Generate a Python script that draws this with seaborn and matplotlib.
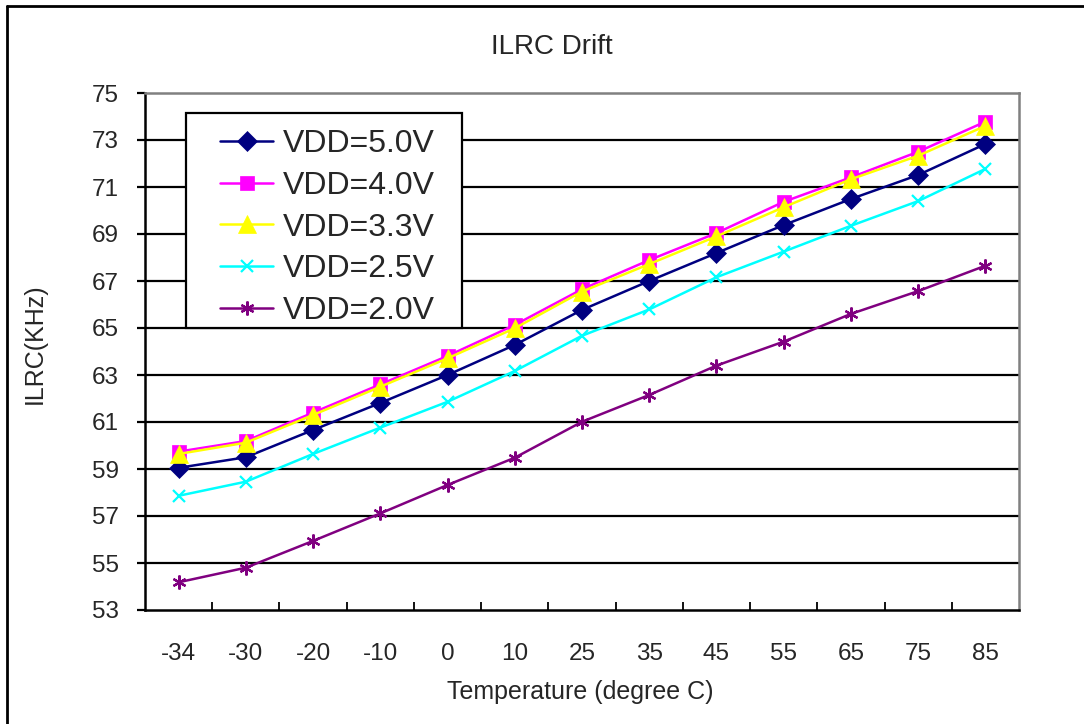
import matplotlib
matplotlib.use("Agg")
import matplotlib.pyplot as plt
from matplotlib.lines import Line2D
from matplotlib.patches import Rectangle
import numpy as np
import pandas as pd
import seaborn as sns

# Temperature points (degree C) and measured ILRC frequency (KHz) per supply voltage
temperatures = ["-34", "-30", "-20", "-10", "0", "10", "25", "35", "45", "55", "65", "75", "85"]
vdd_50 = [59.05, 59.50, 60.66, 61.81, 63.00, 64.28, 65.77, 67.00, 68.19, 69.38, 70.49, 71.51, 72.83]
vdd_40 = [59.74, 60.19, 61.40, 62.60, 63.81, 65.13, 66.65, 67.89, 69.04, 70.37, 71.41, 72.50, 73.78]
vdd_33 = [59.64, 60.12, 61.30, 62.50, 63.71, 64.99, 66.55, 67.72, 68.90, 70.14, 71.33, 72.33, 73.60]
vdd_25 = [57.86, 58.46, 59.64, 60.76, 61.86, 63.17, 64.67, 65.79, 67.16, 68.25, 69.35, 70.40, 71.77]
vdd_20 = [54.18, 54.80, 55.94, 57.11, 58.32, 59.48, 61.01, 62.15, 63.40, 64.42, 65.60, 66.57, 67.65]

series_names = ["VDD=5.0V", "VDD=4.0V", "VDD=3.3V", "VDD=2.5V", "VDD=2.0V"]
series_values = [vdd_50, vdd_40, vdd_33, vdd_25, vdd_20]
y_ticks = list(range(53, 76, 2))

colors = ["#000080", "#FF00FF", "#FFFF00", "#00FFFF", "#800080"]
markers = ["D", "s", "^", "x", (6, 2, 0)]
marker_sizes = [10.5, 10, 12.5, 9, 10]

sns.set_theme(style="white")
plt.rcParams["font.family"] = ["Liberation Sans", "DejaVu Sans"]

W, H = 1084, 724
fig = plt.figure(figsize=(W / 100, H / 100), dpi=100)
ax_left, ax_right, ax_top, ax_bottom = 145, 1019, 93, 610
ax = fig.add_axes([ax_left / W, 1 - ax_bottom / H, (ax_right - ax_left) / W, (ax_bottom - ax_top) / H])


def px_to_axes(px, py):
    return ((px - ax_left) / (ax_right - ax_left), (ax_bottom - py) / (ax_bottom - ax_top))


# horizontal gridlines behind the data
for yv in y_ticks[1:-1]:
    ax.axhline(yv, color="black", lw=1.6, zorder=1)

handles = []
for name, vals, c, m, ms in zip(series_names, series_values, colors, markers, marker_sizes):
    mew = 1.6 if m in ("x", (6, 2, 0)) else 0.5
    df = pd.DataFrame({"Temperature": temperatures, "ILRC": vals})
    sns.lineplot(data=df, x="Temperature", y="ILRC", sort=False, ax=ax, color=c,
                 lw=1.8, marker=m, markersize=ms, markeredgecolor=c,
                 markeredgewidth=mew, markerfacecolor=c, zorder=3)
    handles.append(Line2D([], [], color=c, lw=1.8, marker=m, markersize=ms,
                          markeredgecolor=c, markerfacecolor=c, markeredgewidth=mew))

ax.set_xlim(-0.5, len(temperatures) - 0.5)
ax.set_ylim(53, 75)
ax.set_yticks(y_ticks)
ax.set_xticks(range(len(temperatures)))
ax.set_xticklabels(temperatures)
ax.set_xticks(np.arange(0.5, len(temperatures) - 1, 1.0), minor=True)

ax.tick_params(axis="y", which="major", direction="out", length=6, width=1.6,
               color="black", labelsize=17.5, pad=13, left=True)
ax.tick_params(axis="x", which="major", length=0, labelsize=17.5, pad=24)
ax.tick_params(axis="x", which="minor", direction="in", length=6, width=1.3,
               color="black", bottom=True)

for side in ("left", "bottom"):
    ax.spines[side].set_color("black")
    ax.spines[side].set_linewidth(1.8)
for side in ("top", "right"):
    ax.spines[side].set_color("#808080")
    ax.spines[side].set_linewidth(1.8)

ax.set_xlabel("Temperature (degree C)", fontsize=18, va="center")
ax.xaxis.set_label_coords(*px_to_axes(580, 692))
ax.set_ylabel("ILRC(KHz)", fontsize=18, va="center")
ax.yaxis.set_label_coords(*px_to_axes(35, 344))

# legend box, then the entries on top of it
bx0, by0 = px_to_axes(186, 328)
bx1, by1 = px_to_axes(462, 113)
ax.add_patch(Rectangle((bx0, by0), bx1 - bx0, by1 - by0, transform=ax.transAxes,
                       facecolor="white", edgecolor="black", lw=1.6, zorder=4))
leg = ax.legend(handles, series_names, loc="center left",
                bbox_to_anchor=px_to_axes(220, 227.5),
                fontsize=23, frameon=False, borderaxespad=0, borderpad=0,
                handlelength=1.66, handletextpad=0.3, labelspacing=0.37)
leg.set_zorder(5)

fig.text(552 / W, 1 - 47 / H, "ILRC Drift", fontsize=20, ha="center", va="center")

# chart area frame
fig.add_artist(Line2D([7 / W, 7 / W], [0, 1 - 6 / H], color="black", lw=2,
                      transform=fig.transFigure))
fig.add_artist(Line2D([7 / W, 1], [1 - 6 / H, 1 - 6 / H], color="black", lw=2,
                      transform=fig.transFigure))

fig.savefig("out.png", dpi=100)
